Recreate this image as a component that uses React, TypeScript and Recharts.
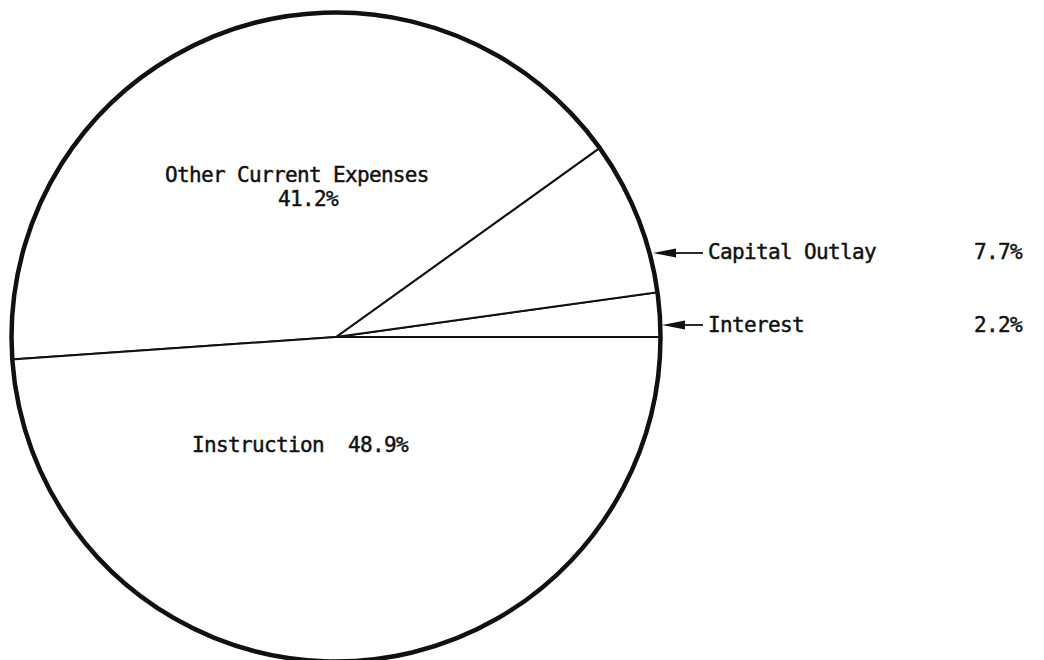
import React from 'react';
import { PieChart, Pie, Cell } from 'recharts';

const categories = ['Interest', 'Capital Outlay', 'Other Current Expenses', 'Instruction'];
const shares = [2.2, 7.7, 41.2, 48.9];
const percentLabels = ['2.2%', '7.7%', '41.2%', '48.9%'];

const data = categories.map((name, i) => ({ name, value: shares[i], pct: percentLabels[i] }));
const ring = [{ name: 'ring', value: 100 }];

const FONT = 'DejaVu Sans Mono';
const textStyle = {
  fontFamily: FONT,
  fontSize: 21,
  letterSpacing: -0.65,
  fill: '#111',
  stroke: '#111',
  strokeWidth: 0.45,
} as const;

function Arrow({ tipX, y, baseX, endX }: { tipX: number; y: number; baseX: number; endX: number }) {
  return (
    <g>
      <polygon points={`${tipX},${y} ${baseX},${y - 4.5} ${baseX},${y + 4.5}`} fill="#111" />
      <line x1={baseX} y1={y} x2={endX} y2={y} stroke="#111" strokeWidth={1.8} />
    </g>
  );
}

const renderLabel = (props: any) => {
  const { cx, cy, index } = props;
  const d = data[index];
  if (d.name === 'Other Current Expenses') {
    return (
      <g>
        <text x={cx - 171} y={cy - 155} style={textStyle}>{d.name}</text>
        <text x={cx - 58} y={cy - 131} style={textStyle}>{d.pct}</text>
      </g>
    );
  }
  if (d.name === 'Instruction') {
    return (
      <text x={cx - 144} y={cy + 115} style={textStyle} xmlSpace="preserve">{`${d.name}  ${d.pct}`}</text>
    );
  }
  if (d.name === 'Capital Outlay') {
    return (
      <g>
        <Arrow tipX={cx + 317} y={cy - 84} baseX={cx + 340} endX={cx + 367} />
        <text x={cx + 372} y={cy - 78} style={textStyle}>{d.name}</text>
        <text x={cx + 638} y={cy - 78} style={textStyle}>{d.pct}</text>
      </g>
    );
  }
  if (d.name === 'Interest') {
    return (
      <g>
        <Arrow tipX={cx + 326} y={cy - 12} baseX={cx + 349} endX={cx + 367} />
        <text x={cx + 372} y={cy - 5} style={textStyle}>{d.name}</text>
        <text x={cx + 638} y={cy - 5} style={textStyle}>{d.pct}</text>
      </g>
    );
  }
  return null;
};

export default function App() {
  return (
    <div style={{ position: 'absolute', left: 0, top: 0, width: 1044, height: 660, background: '#fff' }}>
      <PieChart width={1044} height={660} margin={{ top: 0, right: 0, bottom: 0, left: 0 }}>
        <Pie
          data={data}
          dataKey="value"
          nameKey="name"
          cx={336}
          cy={337}
          outerRadius={325}
          startAngle={0}
          endAngle={360}
          stroke="#111"
          strokeWidth={2}
          isAnimationActive={false}
          labelLine={false}
          label={renderLabel}
        >
          {data.map((d) => (
            <Cell key={d.name} fill="#fff" stroke="#111" strokeWidth={2} />
          ))}
        </Pie>
        <Pie
          data={ring}
          dataKey="value"
          cx={336}
          cy={337}
          outerRadius={325}
          innerRadius={324}
          startAngle={0}
          endAngle={360}
          fill="none"
          stroke="#111"
          strokeWidth={3.5}
          isAnimationActive={false}
          labelLine={false}
        />
      </PieChart>
    </div>
  );
}
